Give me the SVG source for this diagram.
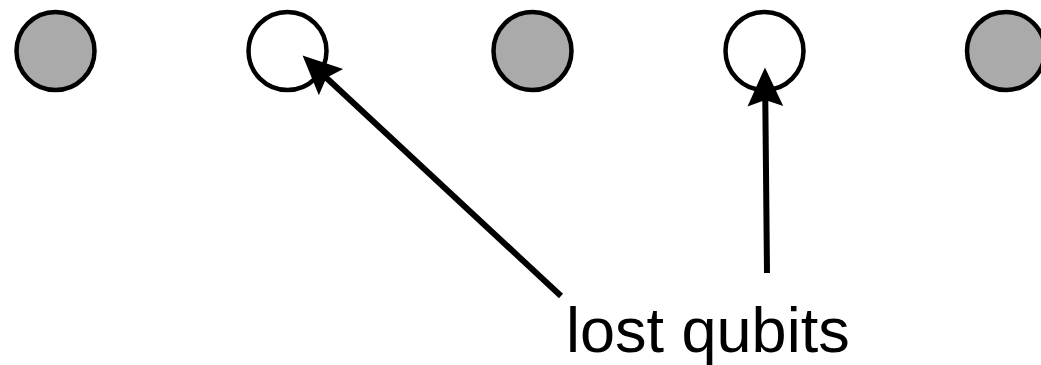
<svg xmlns="http://www.w3.org/2000/svg" width="1041" height="365" viewBox="0 0 1041 365">
<style>
.q{stroke:#000;stroke-width:4.5}
.full{fill:#aaaaaa}
.lost{fill:#fff}
.conn{stroke:#000;stroke-width:6;fill:none}
.lbl{font-family:"Liberation Sans",Arial,sans-serif;font-size:63px;fill:#000}
</style>
<defs>
<marker id="ah" markerUnits="userSpaceOnUse" markerWidth="42" markerHeight="42" viewBox="-38 -19 40 38" refX="-12" refY="0" orient="auto">
<path d="M0,0 L-37,-17 L-31,0 L-37,17 Z" fill="#000"/>
</marker>
</defs>
<rect width="1041" height="365" fill="#fff"/>
<g id="q1"><circle class="q full" cx="55.5" cy="51" r="39"/></g>
<g id="q2"><circle class="q lost" cx="287.5" cy="51" r="39"/></g>
<g id="q3"><circle class="q full" cx="532.5" cy="51" r="39"/></g>
<g id="q4"><circle class="q lost" cx="764.5" cy="51" r="39"/></g>
<g id="q5"><circle class="q full" cx="1006" cy="51" r="39"/></g>
<g id="connectors">
<line class="conn" x1="561" y1="296" x2="311.8" y2="64.2" marker-end="url(#ah)"/>
<line class="conn" x1="767" y1="273" x2="765.1" y2="80" marker-end="url(#ah)"/>
</g>
<g id="label"><text class="lbl" x="566" y="352">lost qubits</text></g>
</svg>
